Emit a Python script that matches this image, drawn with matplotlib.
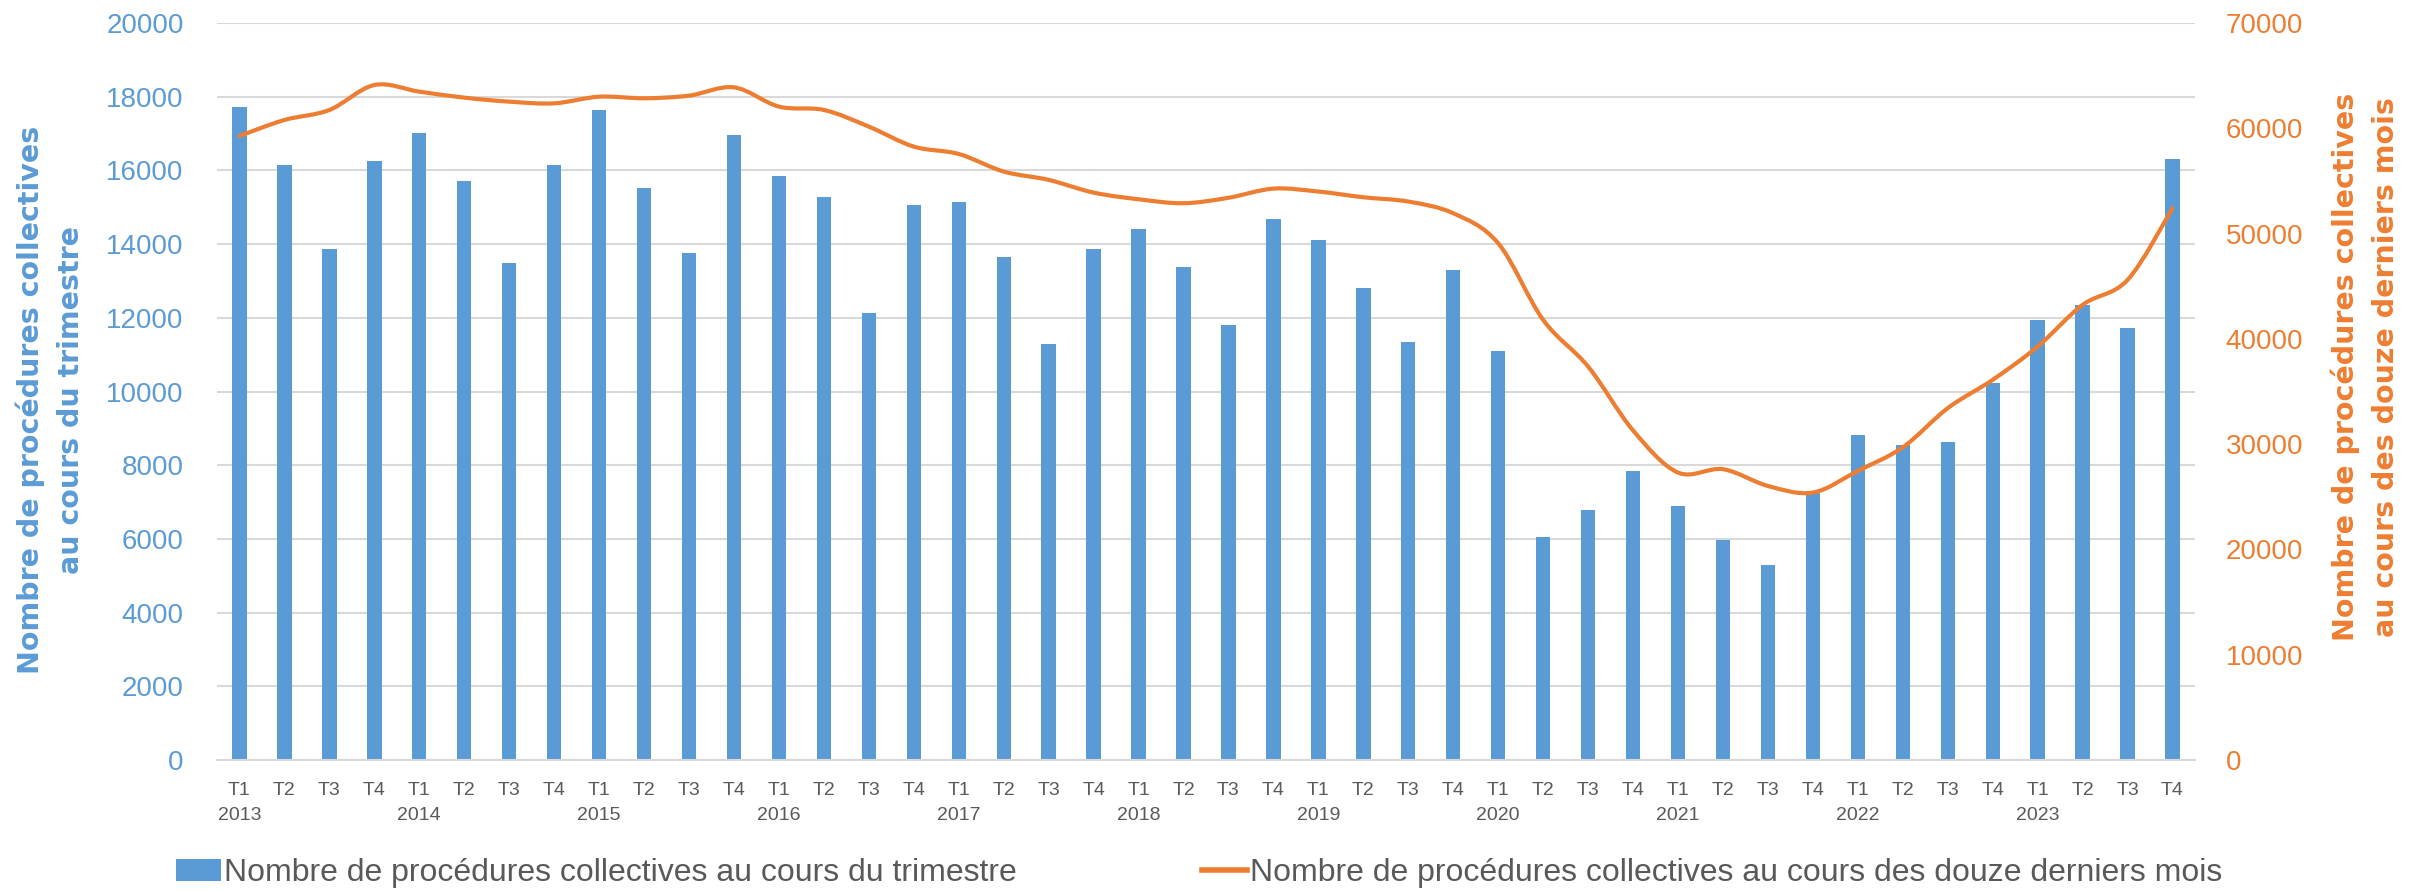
import matplotlib
matplotlib.use("Agg")
import matplotlib.pyplot as plt
import numpy as np
from matplotlib.path import Path
from matplotlib.patches import PathPatch
from matplotlib.lines import Line2D

# categories
years = [str(y) for y in range(2013, 2024)]
quarters = ["T1", "T2", "T3", "T4"]

# procedures per quarter (left axis)
trimestre = [17720, 16160, 13880, 16250,
             17020, 15720, 13480, 16160,
             17640, 15530, 13750, 16960,
             15850, 15270, 12140, 15050,
             15140, 13660, 11280, 13880,
             14410, 13390, 11800, 14690,
             14100, 12800, 11350, 13300,
             11100, 6050, 6780, 7840,
             6900, 5970, 5300, 7300,
             8820, 8550, 8640, 10240,
             11950, 12350, 11730, 16300]

# procedures over the last twelve months (right axis)
douze_mois = [59270, 60790, 61740, 64110,
              63480, 62910, 62530, 62370,
              63000, 62850, 63100, 63890,
              62060, 61740, 60160, 58260,
              57560, 55890, 55100, 53890,
              53260, 52880, 53400, 54270,
              53990, 53450, 53040, 51930,
              49080, 41800, 37370, 31300,
              27300, 27620, 26030, 25400,
              27460, 29700, 33420, 36110,
              39270, 43230, 45600, 52400]

labels = []
for y in years:
    for q in quarters:
        labels.append(q + "\n" + y if q == "T1" else q)

BLUE = "#5B9BD5"
ORANGE = "#ED7D31"
GRID = "#D9D9D9"
TXT = "#595959"
TICKFONT = "Liberation Sans"

fig = plt.figure(figsize=(24.27, 8.90), dpi=100)
ax = fig.add_axes([217/2427, 1-760/890, 1978/2427, 737/890])
ax2 = ax.twinx()

x = np.arange(len(trimestre))
bars = ax.bar(x, trimestre, width=0.32, color=BLUE, zorder=2,
              label="Nombre de procédures collectives au cours du trimestre")

ax.set_xlim(-0.5, len(trimestre) - 0.5)
ax.set_ylim(0, 20000)
ax.set_yticks(range(0, 20001, 2000))
ax.set_xticks(x)
ax.set_xticklabels(labels, fontsize=14, color=TXT, family=TICKFONT, linespacing=1.6)
ax.tick_params(axis="x", length=0, pad=16)
ax.tick_params(axis="y", length=0, pad=24, labelsize=20, labelcolor=BLUE)
for t in ax.get_yticklabels():
    t.set_family(TICKFONT)
ax.grid(axis="y", color=GRID, linewidth=1.5, zorder=0)
ax.set_axisbelow(True)
for s in ["top", "left", "right"]:
    ax.spines[s].set_visible(False)
ax.spines["bottom"].set_color(GRID)
ax.spines["bottom"].set_linewidth(1.5)

# smoothed line (Bezier through the data points, like the spreadsheet "smooth line")
ax2.set_ylim(0, 70000)
ax2.set_yticks(range(0, 70001, 10000))
ax2.tick_params(axis="y", length=0, pad=22, labelsize=20, labelcolor=ORANGE)
for t in ax2.get_yticklabels():
    t.set_family(TICKFONT)
for s in ax2.spines.values():
    s.set_visible(False)

pts = np.column_stack([x, douze_mois]).astype(float)
verts = [pts[0]]
codes = [Path.MOVETO]
n = len(pts)
for i in range(n - 1):
    p0 = pts[max(i - 1, 0)]
    p1 = pts[i]
    p2 = pts[i + 1]
    p3 = pts[min(i + 2, n - 1)]
    c1 = p1 + (p2 - p0) / 6.0
    c2 = p2 - (p3 - p1) / 6.0
    verts += [c1, c2, p2]
    codes += [Path.CURVE4] * 3
ax2.add_patch(PathPatch(Path(verts, codes), facecolor="none", edgecolor=ORANGE,
                        linewidth=3, capstyle="round", zorder=3))

line_handle = Line2D([], [], color=ORANGE, linewidth=4,
                     label="Nombre de procédures collectives au cours des douze derniers mois")

fig.text(50/2427, 1-400/890, "Nombre de procédures collectives\nau cours du trimestre",
         rotation=90, ha="center", va="center", fontsize=20.5, fontweight="bold",
         color=BLUE, linespacing=1.55, multialignment="center")
fig.text(2365/2427, 1-367/890, "Nombre de procédures collectives\nau cours des douze derniers mois",
         rotation=90, ha="center", va="center", fontsize=20.5, fontweight="bold",
         color=ORANGE, linespacing=1.55, multialignment="center")

leg = fig.legend(handles=[bars, line_handle], loc="lower center",
                 bbox_to_anchor=(0.494, -0.03), ncol=2, frameon=False,
                 prop={"family": TICKFONT, "size": 23}, columnspacing=5.8,
                 handlelength=1.4, handletextpad=0.1)
for t in leg.get_texts():
    t.set_color(TXT)

fig.savefig("out.png", dpi=100, facecolor="white")
